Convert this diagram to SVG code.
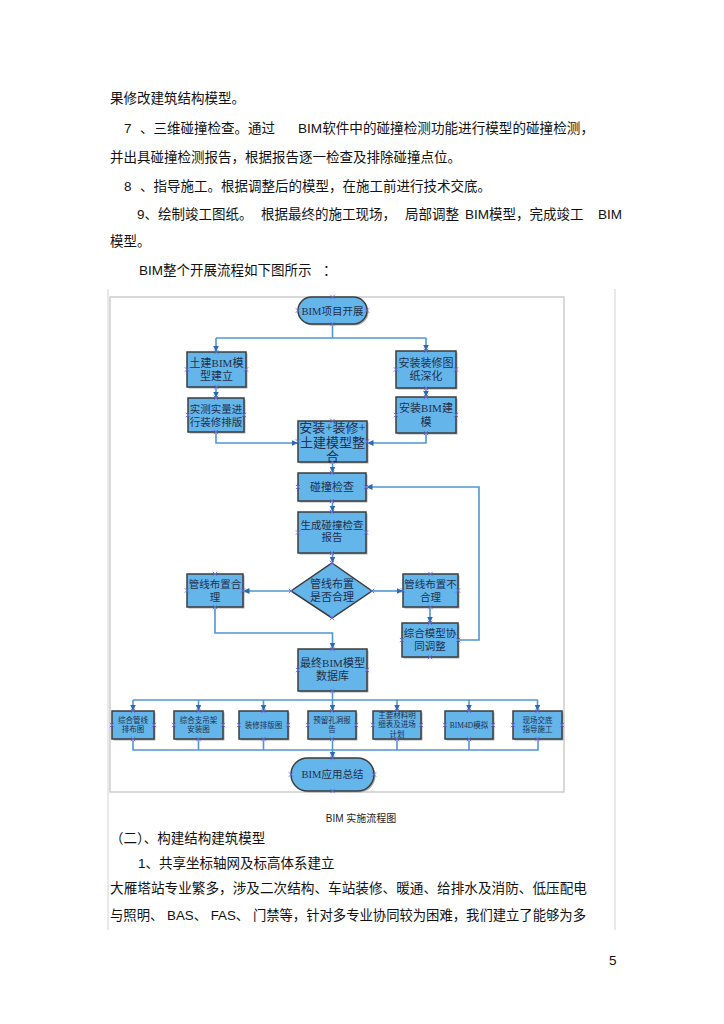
<svg xmlns="http://www.w3.org/2000/svg" xmlns:xlink="http://www.w3.org/1999/xlink" width="724" height="1024" viewBox="0 0 724 1024">
<style>
.t{font-family:"Liberation Sans","Noto Sans CJK SC",sans-serif;font-size:13.5px;fill:#111}
.cap{font-family:"Liberation Sans","Noto Sans CJK SC",sans-serif;font-size:10px;fill:#222;text-anchor:middle}
.pg{stroke:#dadada;stroke-width:1.2;fill:none}
.frame{fill:#fff;stroke:#cdcdcd;stroke-width:1.5}
.box{fill:#63b5ea;stroke:#3d3d3d;stroke-width:1.5}
.sh{fill:#b0b0b0}
.nt{font-family:"Liberation Serif","Noto Sans CJK SC",serif;fill:#22304c;text-anchor:middle}
.c{fill:none;stroke:#5097d2;stroke-width:1.6}
.cp{stroke:#6a6af0;stroke-width:0.9;fill:none}
</style>
<defs>
<marker id="ah" markerUnits="userSpaceOnUse" markerWidth="7" markerHeight="7" viewBox="0 0 7 7" refX="6.5" refY="3.5" orient="auto">
<path d="M0,0.5L6.5,3.5L0,6.5z" fill="#2c6bb0"/>
</marker>
<symbol id="x" overflow="visible"><path class="cp" d="M-2.2,-2.2L2.2,2.2M-2.2,2.2L2.2,-2.2"/></symbol>
</defs>
<rect width="724" height="1024" fill="#fff"/>

<g id="body-text">
<text class="t" x="110" y="103">果修改建筑结构模型。</text>
<text class="t" x="124" y="133">7</text>
<text class="t" x="140" y="133">、三维碰撞检查。通过</text>
<text class="t" x="298" y="133" textLength="296" lengthAdjust="spacingAndGlyphs">BIM软件中的碰撞检测功能进行模型的碰撞检测，</text>
<text class="t" x="110" y="162">并出具碰撞检测报告，根据报告逐一检查及排除碰撞点位。</text>
<text class="t" x="124" y="191">8</text>
<text class="t" x="140" y="191">、指导施工。根据调整后的模型，在施工前进行技术交底。</text>
<text class="t" x="137" y="219">9、绘制竣工图纸。</text>
<text class="t" x="261" y="219">根据最终的施工现场，</text>
<text class="t" x="405" y="219">局部调整</text>
<text class="t" x="465" y="219">BIM模型，完成竣工</text>
<text class="t" x="598" y="219">BIM</text>
<text class="t" x="110" y="246">模型。</text>
<text class="t" x="139" y="275">BIM整个开展流程如下图所示</text>
<text class="t" x="323" y="275">：</text>
</g>

<g id="page-lines">
<line class="pg" x1="108" y1="289" x2="108" y2="930"/>
<line class="pg" x1="615" y1="289" x2="615" y2="930"/>
</g>

<rect id="figure-frame" class="frame" x="110" y="297" width="454" height="495"/>

<g id="connectors">
<path class="c" d="M332.5,324V338"/>
<path class="c" d="M216,338H426"/>
<path class="c" d="M216,338V352" marker-end="url(#ah)"/>
<path class="c" d="M426,338V351" marker-end="url(#ah)"/>
<path class="c" d="M216,387V398" marker-end="url(#ah)"/>
<path class="c" d="M426,388V397" marker-end="url(#ah)"/>
<path class="c" d="M216,432V443H298" marker-end="url(#ah)"/>
<path class="c" d="M426,433V443H367" marker-end="url(#ah)"/>
<path class="c" d="M332.5,462V473" marker-end="url(#ah)"/>
<path class="c" d="M332.5,501V512" marker-end="url(#ah)"/>
<path class="c" d="M332.5,553V563" marker-end="url(#ah)"/>
<path class="c" d="M291,591H243" marker-end="url(#ah)"/>
<path class="c" d="M372,591H403" marker-end="url(#ah)"/>
<path class="c" d="M430,607V623" marker-end="url(#ah)"/>
<path class="c" d="M458,640H479V487H366" marker-end="url(#ah)"/>
<path class="c" d="M215,607V633H332.5V649" marker-end="url(#ah)"/>
<path class="c" d="M332.5,691V700"/>
<path class="c" d="M133,700H538"/>
<path class="c" d="M133,700V711" marker-end="url(#ah)"/>
<path class="c" d="M198.5,700V711" marker-end="url(#ah)"/>
<path class="c" d="M263.5,700V711" marker-end="url(#ah)"/>
<path class="c" d="M332.5,700V711" marker-end="url(#ah)"/>
<path class="c" d="M397,700V711" marker-end="url(#ah)"/>
<path class="c" d="M469,700V711" marker-end="url(#ah)"/>
<path class="c" d="M537.5,700V711" marker-end="url(#ah)"/>
<path class="c" d="M133,739V750H538V739"/>
<path class="c" d="M198.5,739V750M263.5,739V750M332.5,739V750M397,739V750M469,739V750"/>
<path class="c" d="M332.5,750V758" marker-end="url(#ah)"/>
</g>

<g id="n-start">
<rect class="sh" x="299.5" y="298.5" width="69" height="27" rx="13.5"/>
<rect class="box" x="298" y="297" width="69" height="27" rx="13.5"/>
<text class="nt" x="332.5" y="315" font-size="10.5">BIM项目开展</text>
</g>
<g id="n-tujian">
<rect class="sh" x="188.5" y="353.5" width="59" height="35"/>
<rect class="box" x="187" y="352" width="59" height="35"/>
<text class="nt" x="216.5" y="367" font-size="11">土建BIM模</text>
<text class="nt" x="216.5" y="380" font-size="11">型建立</text>
</g>
<g id="n-shice">
<rect class="sh" x="189.5" y="399.5" width="56" height="34"/>
<rect class="box" x="188" y="398" width="56" height="34"/>
<text class="nt" x="216" y="413" font-size="10.5" fill="#3a4a66">实测实量进</text>
<text class="nt" x="216" y="426" font-size="10.5" fill="#3a4a66">行装修排版</text>
</g>
<g id="n-shenhua">
<rect class="sh" x="397.5" y="352.5" width="60" height="37"/>
<rect class="box" x="396" y="351" width="60" height="37"/>
<text class="nt" x="426" y="367" font-size="11" fill="#3a4a66">安装装修图</text>
<text class="nt" x="426" y="380" font-size="11" fill="#3a4a66">纸深化</text>
</g>
<g id="n-anzhuang">
<rect class="sh" x="397.5" y="398.5" width="60" height="36"/>
<rect class="box" x="396" y="397" width="60" height="36"/>
<text class="nt" x="426" y="412" font-size="11" fill="#3a4a66">安装BIM建</text>
<text class="nt" x="426" y="426" font-size="11" fill="#3a4a66">模</text>
</g>
<g id="n-zhenghe">
<rect class="sh" x="299.5" y="422.5" width="69" height="41"/>
<rect class="box" x="298" y="421" width="69" height="41"/>
<text class="nt" x="332.5" y="432" font-size="13">安装+装修+</text>
<text class="nt" x="332.5" y="447" font-size="13">土建模型整</text>
<text class="nt" x="332.5" y="461" font-size="13">合</text>
</g>
<g id="n-pengzhuang">
<rect class="sh" x="299.5" y="474.5" width="68" height="28"/>
<rect class="box" x="298" y="473" width="68" height="28"/>
<text class="nt" x="332" y="491" font-size="11">碰撞检查</text>
</g>
<g id="n-baogao">
<rect class="sh" x="299.5" y="513.5" width="68" height="41"/>
<rect class="box" x="298" y="512" width="68" height="41"/>
<text class="nt" x="332" y="529" font-size="10.5" fill="#3a4a66">生成碰撞检查</text>
<text class="nt" x="332" y="541" font-size="10.5" fill="#3a4a66">报告</text>
</g>
<g id="n-decision">
<path class="box" d="M332,563L372,591L332,618L291,591Z"/>
<text class="nt" x="332" y="588" font-size="11">管线布置</text>
<text class="nt" x="332" y="601" font-size="11">是否合理</text>
</g>
<g id="n-heli">
<rect class="sh" x="188.5" y="575.5" width="56" height="33"/>
<rect class="box" x="187" y="574" width="56" height="33"/>
<text class="nt" x="215" y="588" font-size="10.5">管线布置合</text>
<text class="nt" x="215" y="601" font-size="10.5">理</text>
</g>
<g id="n-buheli">
<rect class="sh" x="404.5" y="575.5" width="55" height="33"/>
<rect class="box" x="403" y="574" width="55" height="33"/>
<text class="nt" x="430.5" y="588" font-size="10.5">管线布置不</text>
<text class="nt" x="430.5" y="601" font-size="10.5">合理</text>
</g>
<g id="n-xietiao">
<rect class="sh" x="403.5" y="624.5" width="56" height="34"/>
<rect class="box" x="402" y="623" width="56" height="34"/>
<text class="nt" x="430" y="637" font-size="10.5">综合模型协</text>
<text class="nt" x="430" y="650" font-size="10.5">同调整</text>
</g>
<g id="n-zuizhong">
<rect class="sh" x="299.5" y="650.5" width="69" height="42"/>
<rect class="box" x="298" y="649" width="69" height="42"/>
<text class="nt" x="332.5" y="667" font-size="11">最终BIM模型</text>
<text class="nt" x="332.5" y="680" font-size="11">数据库</text>
</g>
<g id="n-b1">
<rect class="sh" x="113.5" y="712.5" width="42" height="28"/>
<rect class="box" x="112" y="711" width="42" height="28"/>
<text class="nt" x="133" y="723" font-size="7.5">综合管线</text>
<text class="nt" x="133" y="732" font-size="7.5">排布图</text>
</g>
<g id="n-b2">
<rect class="sh" x="175.5" y="712.5" width="49" height="28"/>
<rect class="box" x="174" y="711" width="49" height="28"/>
<text class="nt" x="198.5" y="723" font-size="7.5">综合支吊架</text>
<text class="nt" x="198.5" y="732" font-size="7.5">安装图</text>
</g>
<g id="n-b3">
<rect class="sh" x="240.5" y="712.5" width="49" height="28"/>
<rect class="box" x="239" y="711" width="49" height="28"/>
<text class="nt" x="263.5" y="728" font-size="7.5">装修排版图</text>
</g>
<g id="n-b4">
<rect class="sh" x="309.5" y="712.5" width="48" height="28"/>
<rect class="box" x="308" y="711" width="48" height="28"/>
<text class="nt" x="332" y="723" font-size="7.5">预留孔洞报</text>
<text class="nt" x="332" y="732" font-size="7.5">告</text>
</g>
<g id="n-b5">
<rect class="sh" x="374.5" y="712.5" width="48" height="28"/>
<rect class="box" x="373" y="711" width="48" height="28"/>
<text class="nt" x="397" y="717.5" font-size="7.5">主要材料明</text>
<text class="nt" x="397" y="727" font-size="7.5">细表及进场</text>
<text class="nt" x="397" y="736.5" font-size="7.5">计划</text>
</g>
<g id="n-b6">
<rect class="sh" x="446.5" y="712.5" width="48" height="28"/>
<rect class="box" x="445" y="711" width="48" height="28"/>
<text class="nt" x="469" y="728" font-size="7.5">BIM4D模拟</text>
</g>
<g id="n-b7">
<rect class="sh" x="514.5" y="712.5" width="49" height="28"/>
<rect class="box" x="513" y="711" width="49" height="28"/>
<text class="nt" x="537.5" y="723" font-size="7.5">现场交底</text>
<text class="nt" x="537.5" y="732" font-size="7.5">指导施工</text>
</g>
<g id="n-end">
<rect class="sh" x="292.5" y="759.5" width="83" height="33" rx="16.5"/>
<rect class="box" x="291" y="758" width="83" height="33" rx="16.5"/>
<text class="nt" x="332.5" y="778" font-size="10.5">BIM应用总结</text>
</g>

<g id="connection-points">
<use href="#x" x="332.5" y="297"/><use href="#x" x="332.5" y="324"/><use href="#x" x="298" y="310.5"/><use href="#x" x="367" y="310.5"/>
<use href="#x" x="216.5" y="352"/><use href="#x" x="216.5" y="387"/><use href="#x" x="187" y="369.5"/><use href="#x" x="246" y="369.5"/>
<use href="#x" x="216" y="398"/><use href="#x" x="216" y="432"/><use href="#x" x="188" y="415"/><use href="#x" x="244" y="415"/>
<use href="#x" x="426" y="351"/><use href="#x" x="426" y="388"/><use href="#x" x="396" y="369.5"/><use href="#x" x="456" y="369.5"/>
<use href="#x" x="426" y="397"/><use href="#x" x="426" y="433"/><use href="#x" x="396" y="415"/><use href="#x" x="456" y="415"/>
<use href="#x" x="332.5" y="421"/><use href="#x" x="332.5" y="462"/><use href="#x" x="298" y="441.5"/><use href="#x" x="367" y="441.5"/>
<use href="#x" x="332" y="473"/><use href="#x" x="332" y="501"/><use href="#x" x="298" y="487"/><use href="#x" x="366" y="487"/>
<use href="#x" x="332" y="512"/><use href="#x" x="332" y="553"/><use href="#x" x="298" y="532.5"/><use href="#x" x="366" y="532.5"/>
<use href="#x" x="332" y="563"/><use href="#x" x="332" y="618"/><use href="#x" x="291" y="591"/><use href="#x" x="372" y="591"/>
<use href="#x" x="215" y="574"/><use href="#x" x="215" y="607"/><use href="#x" x="187" y="590.5"/><use href="#x" x="243" y="590.5"/>
<use href="#x" x="430.5" y="574"/><use href="#x" x="430.5" y="607"/><use href="#x" x="403" y="590.5"/><use href="#x" x="458" y="590.5"/>
<use href="#x" x="430" y="623"/><use href="#x" x="430" y="657"/><use href="#x" x="402" y="640"/><use href="#x" x="458" y="640"/>
<use href="#x" x="332.5" y="649"/><use href="#x" x="332.5" y="691"/><use href="#x" x="298" y="670"/><use href="#x" x="367" y="670"/>
<use href="#x" x="133" y="711"/><use href="#x" x="133" y="739"/><use href="#x" x="112" y="725"/><use href="#x" x="154" y="725"/>
<use href="#x" x="198.5" y="711"/><use href="#x" x="198.5" y="739"/><use href="#x" x="174" y="725"/><use href="#x" x="223" y="725"/>
<use href="#x" x="263.5" y="711"/><use href="#x" x="263.5" y="739"/><use href="#x" x="239" y="725"/><use href="#x" x="288" y="725"/>
<use href="#x" x="332" y="711"/><use href="#x" x="332" y="739"/><use href="#x" x="308" y="725"/><use href="#x" x="356" y="725"/>
<use href="#x" x="397" y="711"/><use href="#x" x="397" y="739"/><use href="#x" x="373" y="725"/><use href="#x" x="421" y="725"/>
<use href="#x" x="469" y="711"/><use href="#x" x="469" y="739"/><use href="#x" x="445" y="725"/><use href="#x" x="493" y="725"/>
<use href="#x" x="537.5" y="711"/><use href="#x" x="537.5" y="739"/><use href="#x" x="513" y="725"/><use href="#x" x="562" y="725"/>
<use href="#x" x="332.5" y="758"/><use href="#x" x="332.5" y="791"/><use href="#x" x="291" y="774.5"/><use href="#x" x="374" y="774.5"/>
</g>

<g id="bottom-text">
<text class="cap" x="361" y="822">BIM 实施流程图</text>
<text class="t" x="110" y="843">（二）、构建结构建筑模型</text>
<text class="t" x="138" y="868">1、共享坐标轴网及标高体系建立</text>
<text class="t" x="110" y="893" textLength="477" lengthAdjust="spacingAndGlyphs">大雁塔站专业繁多，涉及二次结构、车站装修、暖通、给排水及消防、低压配电</text>
<text class="t" x="110" y="920" textLength="476" lengthAdjust="spacingAndGlyphs">与照明、 BAS、 FAS、 门禁等，针对多专业协同较为困难，我们建立了能够为多</text>
<text class="t" x="609" y="965" font-size="11">5</text>
</g>
</svg>
